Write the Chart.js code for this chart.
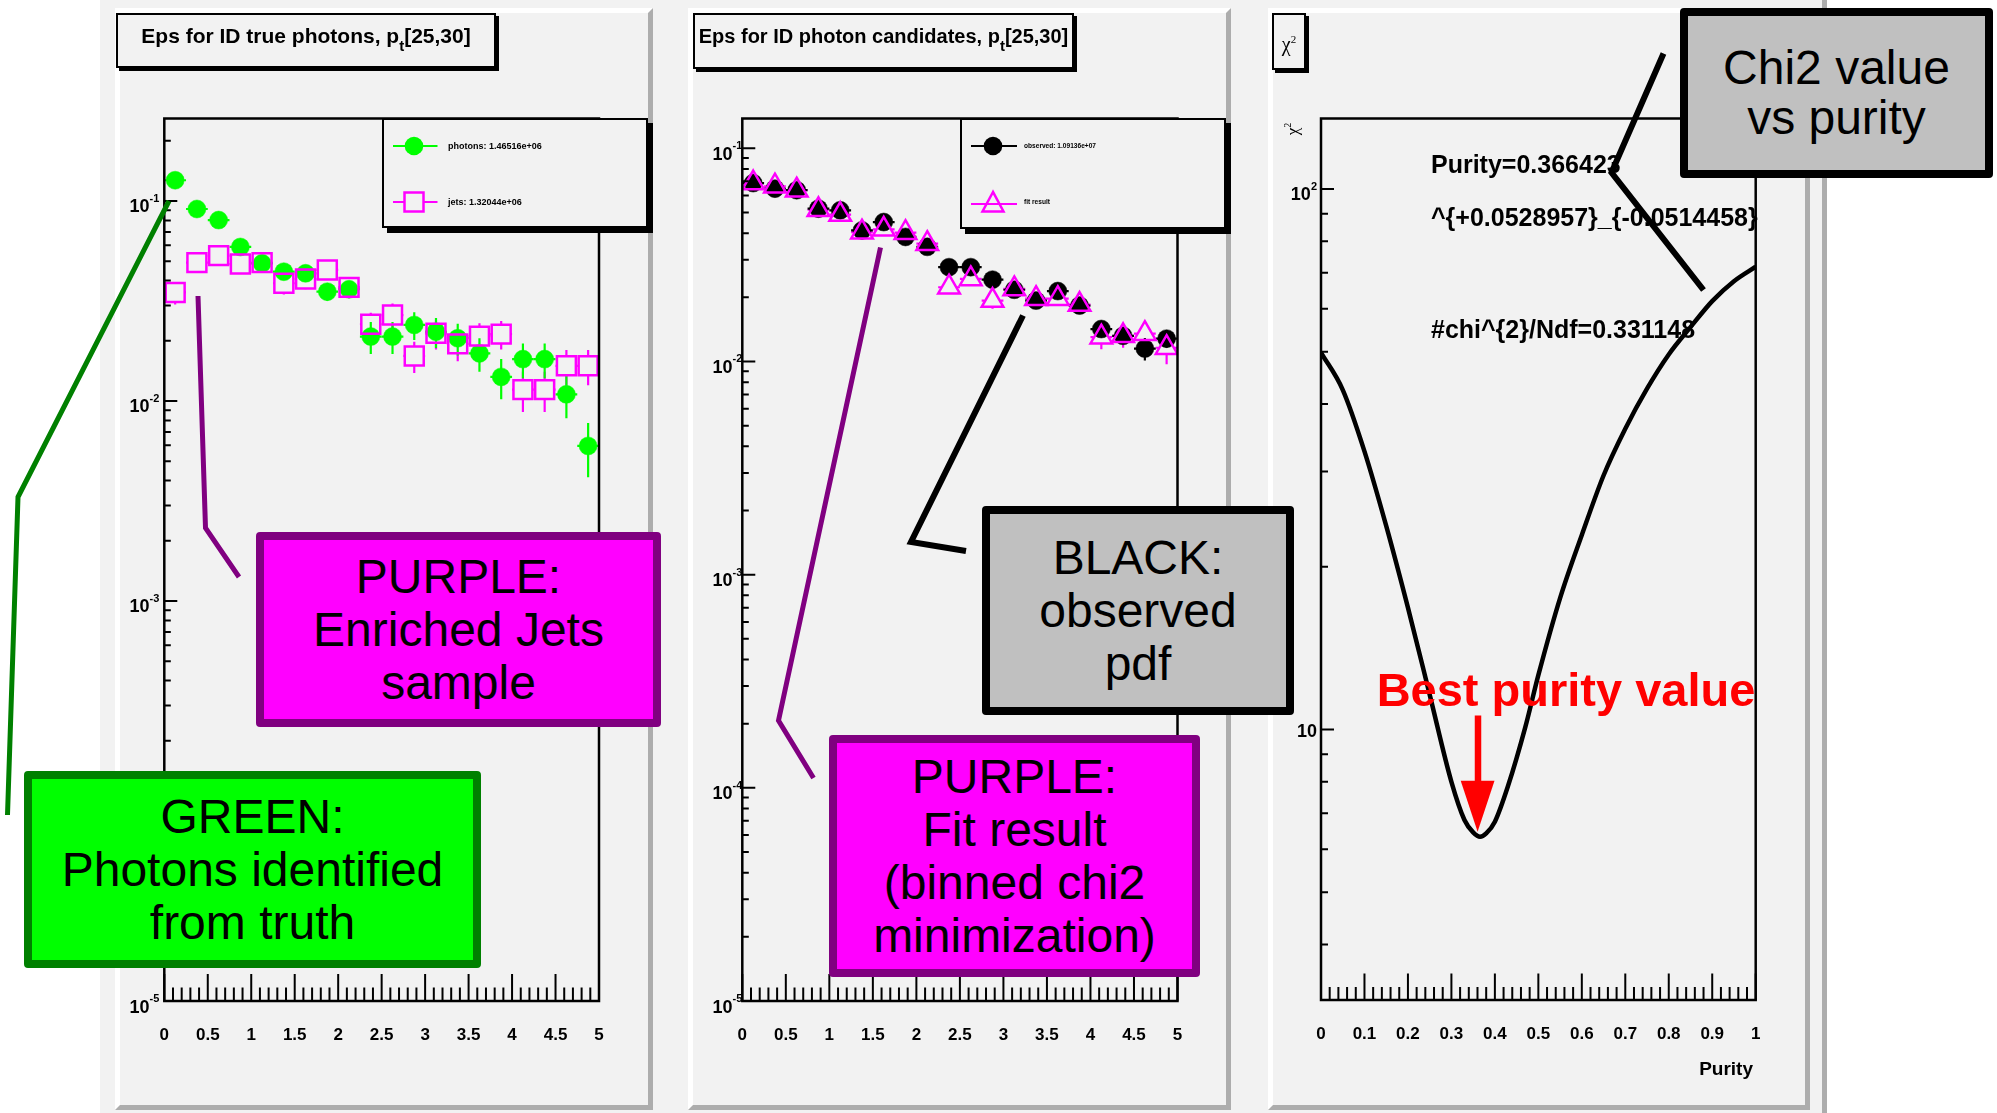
<!DOCTYPE html>
<html><head><meta charset="utf-8">
<script src="https://cdn.jsdelivr.net/npm/chart.js@4.4.1/dist/chart.umd.min.js"></script>
<style>
html,body{margin:0;padding:0;background:#fff;}
body{width:1997px;height:1113px;position:relative;overflow:hidden;font-family:'Liberation Sans',Arial,sans-serif;color:#000;}
#rootcv{position:absolute;left:100px;top:0;width:1727px;height:1113px;background:#f2f2f2;box-sizing:border-box;border-right:5px solid #adadad;}
.pad{position:absolute;box-sizing:border-box;background:#f2f2f2;border-top:5px solid #fff;border-left:5px solid #fff;border-right:5px solid #adadad;border-bottom:5px solid #adadad;}
canvas{position:absolute;z-index:2;}
.tbox{position:absolute;box-sizing:border-box;border:2px solid #000;background:#f2f2f2;box-shadow:3px 3px 0 #000;z-index:3;}
.ttext{position:absolute;left:-10px;right:-10px;top:10px;text-align:center;font-weight:bold;font-size:21px;line-height:21px;white-space:nowrap;}
.ttext .sb{font-size:15px;position:relative;top:8px;}
.leg{position:absolute;box-sizing:border-box;border:2px solid #000;background:#f2f2f2;box-shadow:5px 5px 0 #000;z-index:3;}
.legtxt{position:absolute;font-weight:bold;white-space:nowrap;z-index:5;}
.ptxt{position:absolute;font-weight:bold;font-size:25px;line-height:25px;white-space:nowrap;z-index:4;}
.note{position:absolute;box-sizing:border-box;border:8px solid;border-radius:4px;display:flex;flex-direction:column;justify-content:center;align-items:center;text-align:center;font-size:48px;line-height:53px;white-space:nowrap;z-index:6;}
svg.ov{position:absolute;left:0;top:0;z-index:7;pointer-events:none;}
</style></head>
<body>
<div id="rootcv"></div>
<div class="pad" style="left:115px;top:8px;width:538px;height:1102px"></div>
<div class="pad" style="left:688px;top:8px;width:543px;height:1102px"></div>
<div class="pad" style="left:1268px;top:8px;width:542px;height:1102px"></div>

<canvas id="c1" width="528" height="1092" style="left:120px;top:13px;width:528px;height:1092px"></canvas>
<canvas id="c2" width="533" height="1092" style="left:693px;top:13px;width:533px;height:1092px"></canvas>
<canvas id="c3" width="530" height="1092" style="left:1275px;top:13px;width:530px;height:1092px"></canvas>

<div class="tbox" style="left:116px;top:13px;width:380px;height:55px"><div class="ttext">Eps for ID true photons, p<span class="sb">t</span>[25,30]</div></div>
<div class="tbox" style="left:693px;top:13px;width:381px;height:56px"><div class="ttext" style="font-size:20px;top:11px">Eps for ID photon candidates, p<span class="sb">t</span>[25,30]</div></div>
<div class="tbox" style="left:1272px;top:13px;width:34px;height:57px"><div style="position:absolute;left:0;right:0;top:14px;text-align:center;font-family:'Liberation Serif',serif;font-size:20px;line-height:20px">χ<sup style="font-size:11px">2</sup></div></div>
<div style="position:absolute;left:1276px;top:120px;width:24px;height:18px;z-index:4;transform:rotate(-90deg);transform-origin:50% 50%;font-family:'Liberation Serif',serif;font-size:17px;line-height:18px;text-align:center">χ<sup style="font-size:10px">2</sup></div>
<div style="position:absolute;left:1653px;width:100px;top:1059px;text-align:right;font-weight:bold;font-size:19px;line-height:19px;z-index:4">Purity</div>

<div class="leg" style="left:382px;top:118px;width:266px;height:110px"></div>
<div class="leg" style="left:960px;top:118px;width:266px;height:111px"></div>
<svg class="ov" width="1997" height="1113" style="z-index:4">
  <line x1="393" y1="146" x2="437.5" y2="146" stroke="#00ff00" stroke-width="2"/>
  <circle cx="414" cy="146" r="9.3" fill="#00ff00"/>
  <line x1="393" y1="202" x2="404.5" y2="202" stroke="#ff00ff" stroke-width="2"/>
  <line x1="423.5" y1="202" x2="437.5" y2="202" stroke="#ff00ff" stroke-width="2"/>
  <rect x="404.5" y="192.5" width="19" height="19" fill="none" stroke="#ff00ff" stroke-width="2.5"/>
  <line x1="971" y1="146" x2="1017" y2="146" stroke="#000" stroke-width="2"/>
  <circle cx="993" cy="146" r="9.3" fill="#000"/>
  <line x1="971" y1="204" x2="1017" y2="204" stroke="#ff00ff" stroke-width="2"/>
  <polygon points="993,192 982.5,211.5 1003.5,211.5" fill="none" stroke="#ff00ff" stroke-width="2.5"/>
</svg>
<div class="legtxt" style="left:448px;top:140px;font-size:9px;line-height:12px">photons: 1.46516e+06</div>
<div class="legtxt" style="left:448px;top:196px;font-size:9px;line-height:12px">jets: 1.32044e+06</div>
<div class="legtxt" style="left:1024px;top:142px;font-size:6.6px;line-height:8px">observed: 1.09136e+07</div>
<div class="legtxt" style="left:1024px;top:198px;font-size:6.6px;line-height:8px">fit result</div>

<div class="ptxt" style="left:1431px;top:152px">Purity=0.366423</div>
<div class="ptxt" style="left:1431px;top:205px">^{+0.0528957}_{-0.0514458}</div>
<div class="ptxt" style="left:1431px;top:317px">#chi^{2}/Ndf=0.331148</div>

<div class="note" style="left:256px;top:532px;width:405px;height:195px;border-color:#800080;background:#ff00ff"><div>PURPLE:</div><div>Enriched Jets</div><div>sample</div></div>
<div class="note" style="left:24px;top:771px;width:457px;height:197px;border-color:#008000;background:#00ff00"><div>GREEN:</div><div>Photons identified</div><div>from truth</div></div>
<div class="note" style="left:982px;top:506px;width:312px;height:209px;border-color:#000;background:#c0c0c0"><div>BLACK:</div><div>observed</div><div>pdf</div></div>
<div class="note" style="left:829px;top:735px;width:371px;height:242px;border-color:#800080;background:#ff00ff"><div>PURPLE:</div><div>Fit result</div><div>(binned chi2</div><div>minimization)</div></div>
<div class="note" style="left:1680px;top:8px;width:313px;height:170px;border-color:#000;background:#c0c0c0;line-height:50px"><div>Chi2 value</div><div>vs purity</div></div>
<div style="position:absolute;left:1346px;width:440px;top:666px;text-align:center;color:#ff0000;font-weight:bold;font-size:47px;line-height:47px;white-space:nowrap;z-index:8">Best purity value</div>

<svg class="ov" width="1997" height="1113">
  <polyline points="7.5,815 18,497 169,201" fill="none" stroke="#008000" stroke-width="5"/>
  <polyline points="198,296 205.5,528 239,577" fill="none" stroke="#800080" stroke-width="5"/>
  <polyline points="880.5,247.5 778.5,720.5 813.5,778" fill="none" stroke="#800080" stroke-width="5"/>
  <polyline points="1023,315.5 911,542 966,551" fill="none" stroke="#000" stroke-width="6"/>
  <polyline points="1663.5,53.5 1611.5,172.5 1703.5,290" fill="none" stroke="#000" stroke-width="6"/>
  <line x1="1478" y1="715.5" x2="1478" y2="783" stroke="#ff0000" stroke-width="6.5"/>
  <polygon points="1460.7,780.7 1494.5,780.7 1477.6,831.7" fill="#ff0000"/>
</svg>

<script>
// ---------- data ----------
const binCenters = [0.125,0.375,0.625,0.875,1.125,1.375,1.625,1.875,2.125,2.375,2.625,2.875,3.125,3.375,3.625,3.875,4.125,4.375,4.625,4.875];
const binHalfWidth = 0.125;
const photonEff = [0.127,0.0912,0.0803,0.0589,0.0488,0.0443,0.0435,0.0352,0.0362,0.0210,0.0210,0.0240,0.0222,0.0206,0.0173,0.0132,0.0162,0.0162,0.0108,0.00596];
const photonErr = [0.0038,0.0036,0.0032,0.0029,0.0029,0.0027,0.0030,0.0035,0.0033,0.0038,0.0038,0.0038,0.0038,0.0037,0.0033,0.0030,0.0032,0.0032,0.0026,0.0018];
const jetEff = [0.0349,0.0492,0.0533,0.0484,0.0492,0.0388,0.0407,0.0452,0.0370,0.0242,0.0269,0.0168,0.0218,0.0193,0.0211,0.0216,0.0114,0.0114,0.0150,0.0150];
const jetErr = [0.0045,0.0049,0.0048,0.0048,0.0049,0.0047,0.0045,0.0045,0.0044,0.0034,0.0038,0.0030,0.0037,0.0035,0.0034,0.0035,0.0026,0.0026,0.0030,0.0030];
const observedEff = [0.0687,0.0647,0.0636,0.0521,0.0512,0.0412,0.0451,0.0384,0.0345,0.0277,0.0277,0.0242,0.0217,0.0193,0.0214,0.0183,0.0142,0.0132,0.0115,0.0128];
const observedErr = [0.0015,0.0015,0.0015,0.0014,0.0014,0.0013,0.0013,0.0013,0.0012,0.0012,0.0012,0.0011,0.0011,0.0011,0.0011,0.0011,0.0010,0.0010,0.0014,0.0012];
const fitEff = [0.0687,0.0664,0.0636,0.0515,0.0489,0.0404,0.0417,0.0402,0.0357,0.0223,0.0244,0.0193,0.0219,0.0197,0.0197,0.0185,0.0130,0.0132,0.0135,0.0116];
const fitErr = [0.0016,0.0016,0.0016,0.0015,0.0015,0.0014,0.0014,0.0014,0.0014,0.0015,0.0015,0.0016,0.0015,0.0015,0.0015,0.0015,0.0016,0.0016,0.0016,0.0019];
const purity = [0,0.05,0.1,0.15,0.2,0.25,0.3,0.33,0.35,0.366,0.38,0.4,0.43,0.47,0.5,0.55,0.6,0.65,0.7,0.75,0.8,0.85,0.9,0.95,1.0];
const chi2 = [49.8,42.5,32.7,23.8,16.8,11.6,8.0,6.8,6.45,6.33,6.42,6.75,7.85,10.1,12.6,17.5,22.9,29.5,36.0,42.7,49.4,55.5,62.0,67.5,71.8];

const xTickValuesEps = [0,0.5,1,1.5,2,2.5,3,3.5,4,4.5,5];
const xTickLabelsEps = ['0','0.5','1','1.5','2','2.5','3','3.5','4','4.5','5'];
const yTickValuesEps = [1e-5,1e-4,1e-3,1e-2,1e-1];
const yTickLabelsEps = ['10^-5','10^-4','10^-3','10^-2','10^-1'];
const xTickValuesPur = [0,0.1,0.2,0.3,0.4,0.5,0.6,0.7,0.8,0.9,1];
const xTickLabelsPur = ['0','0.1','0.2','0.3','0.4','0.5','0.6','0.7','0.8','0.9','1'];
const yTickValuesChi = [10,100];
const yTickLabelsChi = ['10','10^2'];

// ---------- drawing helpers ----------
const FONT = "'Liberation Sans', Arial, sans-serif";
const pts = (xs, ys) => xs.map((x, i) => ({x: x, y: ys[i]}));

const rootFrame = {
  id: 'rootFrame',
  beforeDatasetsDraw(chart) {
    const ctx = chart.ctx, xs = chart.scales.x, ys = chart.scales.y, a = chart.chartArea;
    ctx.save();
    ctx.beginPath(); ctx.rect(a.left, a.top, a.right - a.left, a.bottom - a.top); ctx.clip();
    chart.data.datasets.forEach(ds => {
      if (!ds.yErrors) return;
      ctx.strokeStyle = ds.borderColor; ctx.lineWidth = 2.2;
      const g = ds.errGap;
      ds.data.forEach((p, i) => {
        const px = xs.getPixelForValue(p.x), py = ys.getPixelForValue(p.y);
        const e = ds.yErrors[i];
        const yHi = ys.getPixelForValue(p.y + e);
        const yLo = (p.y - e) > 0 ? ys.getPixelForValue(p.y - e) : a.bottom;
        const xL = xs.getPixelForValue(p.x - ds.xError), xR = xs.getPixelForValue(p.x + ds.xError);
        ctx.beginPath();
        if (yHi < py - g.up) { ctx.moveTo(px, py - g.up); ctx.lineTo(px, yHi); }
        if (yLo > py + g.down) { ctx.moveTo(px, py + g.down); ctx.lineTo(px, yLo); }
        if (xL < px - g.side) { ctx.moveTo(xL, py); ctx.lineTo(px - g.side, py); }
        if (xR > px + g.side) { ctx.moveTo(px + g.side, py); ctx.lineTo(xR, py); }
        ctx.stroke();
      });
    });
    ctx.restore();
  },
  afterDraw(chart, args, o) {
    const ctx = chart.ctx, xs = chart.scales.x, ys = chart.scales.y, a = chart.chartArea;
    ctx.save();
    ctx.strokeStyle = '#000';
    ctx.lineWidth = 2;
    ctx.beginPath();
    const n = Math.round((xs.max - xs.min) / o.xMinor);
    for (let k = 0; k <= n; k++) {
      const v = xs.min + k * o.xMinor;
      const r = v / o.xMajor;
      const major = Math.abs(r - Math.round(r)) < 1e-6;
      const px = xs.getPixelForValue(v);
      ctx.moveTo(px, a.bottom); ctx.lineTo(px, a.bottom - (major ? o.xMajorLen : o.xMinorLen));
    }
    const d0 = Math.floor(Math.log10(ys.min)), d1 = Math.ceil(Math.log10(ys.max));
    for (let d = d0; d <= d1; d++) {
      for (let m = 1; m <= 9; m++) {
        const v = m * Math.pow(10, d);
        if (v < ys.min * 0.9999 || v > ys.max * 1.0001) continue;
        const py = ys.getPixelForValue(v);
        ctx.moveTo(a.left, py); ctx.lineTo(a.left + (m === 1 ? o.yMajorLen : o.yMinorLen), py);
      }
    }
    ctx.stroke();
    ctx.lineWidth = 2.5;
    ctx.strokeRect(a.left, a.top, a.right - a.left, a.bottom - a.top);

    // y-axis labels "10" with raised exponent, placed at the scale's tick positions
    ctx.fillStyle = '#000';
    ctx.textBaseline = 'alphabetic';
    ys.ticks.forEach((t, i) => {
      const parts = o.yLabels[i].split('^');
      const py = ys.getPixelForValue(t.value);
      const right = a.left - o.yLabelPad;
      ctx.font = 'bold 11px ' + FONT;
      const we = parts[1] ? ctx.measureText(parts[1]).width : 0;
      ctx.font = 'bold 18px ' + FONT;
      const wb = ctx.measureText(parts[0]).width;
      if (parts[1]) {
        ctx.fillText(parts[0], right - we - wb, py + 11.5);
        ctx.font = 'bold 11px ' + FONT;
        ctx.fillText(parts[1], right - we, py + 1);
      } else {
        ctx.fillText(parts[0], right - wb, py + 8);
      }
    });
    ctx.restore();
  }
};

function makeChart(id, datasets, s) {
  return new Chart(document.getElementById(id), {
    type: 'scatter',
    data: {datasets: datasets},
    plugins: [rootFrame],
    options: {
      responsive: false, animation: false, devicePixelRatio: 1, events: [],
      layout: {padding: s.padding},
      plugins: {legend: {display: false}, tooltip: {enabled: false},
                rootFrame: Object.assign({yLabels: s.yLabels, yLabelPad: s.yPad}, s.frame)},
      scales: {
        x: {
          type: 'linear', min: s.xMin, max: s.xMax, bounds: 'data',
          grid: {display: false, drawTicks: false}, border: {display: false},
          afterBuildTicks: sc => { sc.ticks = s.xTicks.map(v => ({value: v})); },
          afterFit: sc => { sc.height = 60; },
          ticks: {autoSkip: false, maxRotation: 0, minRotation: 0, padding: 23.8, color: '#000',
                  font: {family: FONT, size: 17, weight: 'bold'},
                  callback: (v, i) => s.xLabels[i]}
        },
        y: {
          type: 'logarithmic', min: s.yMin, max: s.yMax, bounds: 'data',
          grid: {display: false, drawTicks: false}, border: {display: false},
          afterBuildTicks: sc => { sc.ticks = s.yTicks.map(v => ({value: v})); },
          afterFit: sc => { sc.width = s.yWidth; },
          ticks: {display: false, autoSkip: false, callback: (v, i) => s.yLabels[i]}
        }
      }
    }
  });
}

const epsFrame = {xMajor: 0.5, xMinor: 0.1, xMajorLen: 27, xMinorLen: 13.5, yMajorLen: 13, yMinorLen: 6.5};

// Panel 1
makeChart('c1', [
  {label: 'jets', data: pts(binCenters, jetEff), yErrors: jetErr, xError: binHalfWidth,
   errGap: {up: 9.5, down: 9.5, side: 9.5},
   pointStyle: 'rect', pointRadius: 13.4, borderColor: '#ff00ff', backgroundColor: 'rgba(0,0,0,0)',
   pointBorderColor: '#ff00ff', pointBackgroundColor: 'rgba(0,0,0,0)', borderWidth: 2.5, pointBorderWidth: 2.5},
  {label: 'photons', data: pts(binCenters, photonEff), yErrors: photonErr, xError: binHalfWidth,
   errGap: {up: 0, down: 0, side: 0},
   pointStyle: 'circle', pointRadius: 9, borderColor: '#00ff00', backgroundColor: '#00ff00',
   pointBorderColor: '#00ff00', pointBackgroundColor: '#00ff00', borderWidth: 0.5, pointBorderWidth: 0.5}
], {padding: {left: 0, top: 105.5, right: 49, bottom: 44}, yWidth: 44.3, yPad: 5,
    xMin: 0, xMax: 5, yMin: 1e-5, yMax: 0.2585,
    xTicks: xTickValuesEps, xLabels: xTickLabelsEps, yTicks: yTickValuesEps, yLabels: yTickLabelsEps,
    frame: epsFrame});

// Panel 2
makeChart('c2', [
  {label: 'fit result', data: pts(binCenters, fitEff), yErrors: fitErr, xError: binHalfWidth,
   errGap: {up: 12.5, down: 6.2, side: 8},
   pointStyle: 'triangle', pointRadius: 12.5, borderColor: '#ff00ff', backgroundColor: 'rgba(0,0,0,0)',
   pointBorderColor: '#ff00ff', pointBackgroundColor: 'rgba(0,0,0,0)', borderWidth: 2.5, pointBorderWidth: 2.5},
  {label: 'observed', data: pts(binCenters, observedEff), yErrors: observedErr, xError: binHalfWidth,
   errGap: {up: 0, down: 0, side: 0},
   pointStyle: 'circle', pointRadius: 9, borderColor: '#000000', backgroundColor: '#000000',
   pointBorderColor: '#000000', pointBackgroundColor: '#000000', borderWidth: 0.5, pointBorderWidth: 0.5}
], {padding: {left: 0, top: 105.5, right: 48.5, bottom: 44}, yWidth: 49.3, yPad: 0,
    xMin: 0, xMax: 5, yMin: 1e-5, yMax: 0.138,
    xTicks: xTickValuesEps, xLabels: xTickLabelsEps, yTicks: yTickValuesEps, yLabels: yTickLabelsEps,
    frame: epsFrame});

// Panel 3
makeChart('c3', [
  {label: 'chi2', data: pts(purity, chi2), showLine: true, borderColor: '#000', borderWidth: 4.5,
   pointRadius: 0, cubicInterpolationMode: 'monotone', fill: false}
], {padding: {left: 0, top: 105.5, right: 49.3, bottom: 45}, yWidth: 46, yPad: 4,
    xMin: 0, xMax: 1, yMin: 3.158, yMax: 135.0,
    xTicks: xTickValuesPur, xLabels: xTickLabelsPur, yTicks: yTickValuesChi, yLabels: yTickLabelsChi,
    frame: {xMajor: 0.1, xMinor: 0.02, xMajorLen: 26.5, xMinorLen: 13, yMajorLen: 13, yMinorLen: 7}});
</script>
</body></html>
